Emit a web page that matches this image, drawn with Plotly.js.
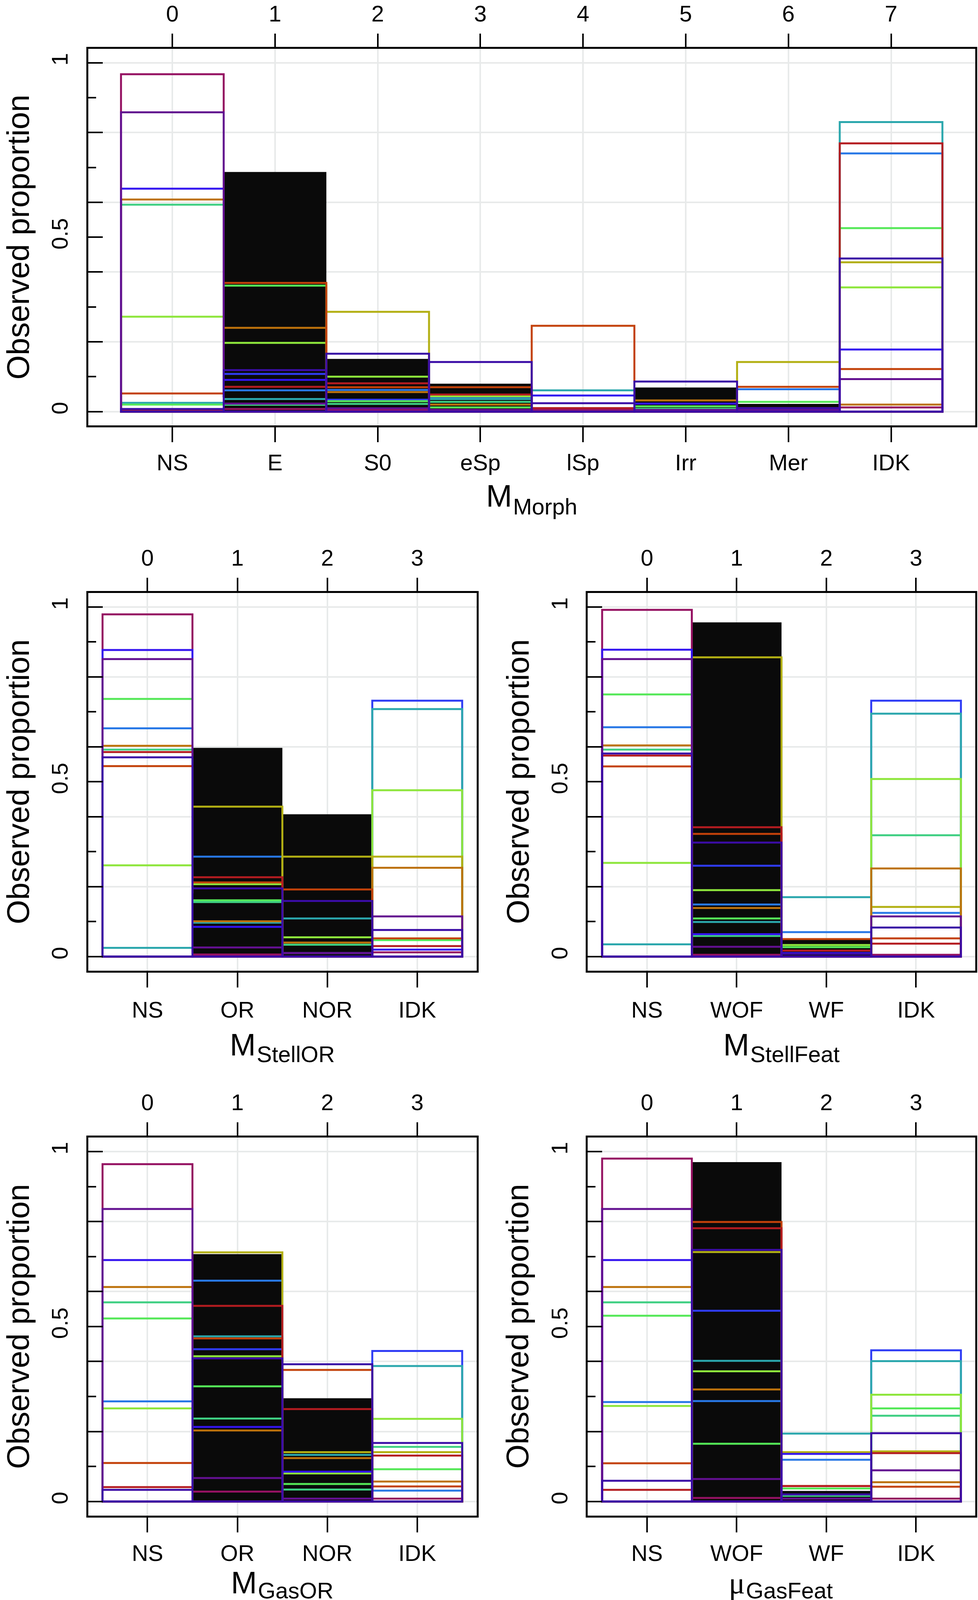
<!DOCTYPE html>
<html><head><meta charset="utf-8">
<script src="https://cdn.plot.ly/plotly-3.0.1.min.js"></script>
<style>
html,body{margin:0;padding:0;background:#fff;width:2503px;height:4140px;overflow:hidden}
#chart{display:block;width:2503px;height:4140px;overflow:hidden}
</style>
</head><body><div id="chart"></div>
<script>
// ---------------- DATA ----------------
// series (drawing order): bright blue, azure, teal, green, sea green, yellow-green, olive,
// orange, red-orange, red, crimson, blue-violet, purple, indigo
const seriesNames = ['BB','AZ','TE','GR','SG','YG','OL','OR','RO','RD','CR','BV','PU','IN'];
const seriesColors = ['#2f3cf5','#2878e6','#2ba7ad','#55e858','#3ecf82','#8ee63c','#b3b014',
                      '#bd720c','#c3420a','#b41c20','#951262','#3414f0','#631090','#3b0ca6'];

const catMorph = ['NS','E','S0','eSp','lSp','Irr','Mer','IDK'];
const blackMorph = [0, 0.687, 0.151, 0.080, 0, 0.069, 0.022, 0];
const valsMorph = [
  [0, 0.108, 0.034, 0, 0, 0, 0, 0],
  [0, 0.061, 0.062, 0.042, 0, 0, 0.064, 0.740],
  [0.025, 0.036, 0, 0.036, 0.061, 0, 0, 0.830],
  [0.020, 0.361, 0.030, 0.012, 0, 0.015, 0.028, 0.526],
  [0.593, 0.0195, 0.022, 0.028, 0, 0.008, 0, 0],
  [0.272, 0.197, 0.100, 0.044, 0, 0, 0, 0.356],
  [0, 0, 0.286, 0, 0, 0, 0.142, 0.428],
  [0.608, 0.240, 0.056, 0.020, 0, 0.032, 0, 0.020],
  [0.052, 0.369, 0.070, 0.070, 0.246, 0, 0.071, 0.122],
  [0.004, 0.071, 0.081, 0.049, 0.010, 0, 0.010, 0.769],
  [0.967, 0.0075, 0.005, 0, 0.005, 0, 0.005, 0.012],
  [0.639, 0.091, 0, 0, 0.046, 0.023, 0, 0.178],
  [0.858, 0.023, 0.0094, 0.005, 0, 0.005, 0.005, 0.093],
  [0.0075, 0.119, 0.166, 0.142, 0.024, 0.086, 0.010, 0.439]
];

const catStellOR = ['NS','OR','NOR','IDK'];
const blackStellOR = [0, 0.597, 0.407, 0];
const valsStellOR = [
  [0, 0, 0, 0.732],
  [0.653, 0.286, 0, 0],
  [0.025, 0.097, 0.109, 0.708],
  [0.737, 0.161, 0.010, 0.047],
  [0.592, 0.156, 0.034, 0],
  [0.261, 0.207, 0.055, 0.476],
  [0, 0.429, 0.286, 0.286],
  [0.603, 0.101, 0.040, 0.254],
  [0.545, 0.212, 0.192, 0.052],
  [0.585, 0.227, 0, 0.030],
  [0.979, 0.006, 0, 0.012],
  [0.877, 0.085, 0.010, 0.020],
  [0.851, 0.026, 0.010, 0.115],
  [0.570, 0.195, 0.159, 0.076]
];

const catStellFeat = ['NS','WOF','WF','IDK'];
const blackStellFeat = [0, 0.956, 0.052, 0];
const valsStellFeat = [
  [0, 0.260, 0, 0.732],
  [0.656, 0.149, 0.070, 0.125],
  [0.035, 0.099, 0.170, 0.695],
  [0.750, 0.109, 0.027, 0],
  [0.592, 0.059, 0, 0.347],
  [0.268, 0.190, 0.033, 0.508],
  [0, 0.856, 0, 0.142],
  [0.604, 0.139, 0, 0.252],
  [0.544, 0.351, 0.050, 0.052],
  [0.575, 0.370, 0.017, 0.037],
  [0.992, 0.005, 0, 0.005],
  [0.878, 0.064, 0.010, 0],
  [0.851, 0.028, 0, 0.115],
  [0.581, 0.326, 0.008, 0.083]
];

const catGasOR = ['NS','OR','NOR','IDK'];
const blackGasOR = [0, 0.707, 0.295, 0];
const valsGasOR = [
  [0, 0.435, 0, 0.430],
  [0.286, 0.631, 0, 0.031],
  [0, 0.472, 0.133, 0.387],
  [0.523, 0.329, 0.050, 0.092],
  [0.569, 0.237, 0.034, 0.156],
  [0.266, 0.415, 0.080, 0.236],
  [0, 0.712, 0.141, 0.141],
  [0.613, 0.203, 0.124, 0.057],
  [0.110, 0.466, 0.376, 0.043],
  [0.041, 0.559, 0.264, 0.131],
  [0.964, 0.028, 0, 0.008],
  [0.690, 0.213, 0.085, 0],
  [0.836, 0.067, 0.008, 0],
  [0.033, 0.409, 0.392, 0.167]
];

const catGasFeat = ['NS','WOF','WF','IDK'];
const blackGasFeat = [0, 0.970, 0.030, 0];
const valsGasFeat = [
  [0, 0.545, 0, 0.432],
  [0.284, 0.287, 0.119, 0],
  [0, 0.402, 0.194, 0.401],
  [0.531, 0.165, 0.037, 0.266],
  [0.569, 0, 0.016, 0.245],
  [0.273, 0.372, 0, 0.305],
  [0, 0.713, 0.141, 0.143],
  [0.613, 0.320, 0, 0.055],
  [0.109, 0.799, 0.044, 0.042],
  [0.033, 0.781, 0.044, 0.138],
  [0.980, 0.010, 0.008, 0.008],
  [0.690, 0, 0.136, 0],
  [0.836, 0.064, 0.008, 0.089],
  [0.059, 0.719, 0.020, 0.195]
];

const yTickVals = [0, 0.5, 1];
const yTickText = ['0', '0.5', '1'];
const yGridVals = [0, 0.2, 0.4, 0.6, 0.8, 1];
const yMinorVals = [0.1, 0.3, 0.7, 0.9];
const yTitle = 'Observed proportion';
const xTitleMain = ['M', 'M', 'M', 'M', 'μ'];
const xTitleSub = ['Morph', 'StellOR', 'StellFeat', 'GasOR', 'GasFeat'];

// ---------------- LAYOUT ----------------
const W = 2503, H = 4140;
const FONT = 'Liberation Sans, Arial, Helvetica, sans-serif';
const SERIF = 'Liberation Serif, Times New Roman, serif';
const GRID = '#e8eaea';
const MAIN_SIZE = 80, SUB_SIZE = 58, MU_SIZE = 78;
// Arial / Liberation Sans advance widths (per 1000 em) for title layout
const ADV = {M:833,o:556,r:333,p:556,h:556,S:667,t:278,e:556,l:222,O:778,R:722,F:611,a:556,G:778,s:500};
const textWidth = (s, size) => s.split('').reduce((w, c) => w + (ADV[c] || 556), 0) * size / 1000;

// box: [left, right, top, bottom] px; lab: extra tick-label standoff; mb/sb: title baselines px
const panels = [
  {cats: catMorph, vals: valsMorph, black: blackMorph, box: [225.6, 2496, 124.9, 1089.4], lab: 0, mb: 1298, sb: 1318},
  {cats: catStellOR, vals: valsStellOR, black: blackStellOR, box: [225.6, 1219.7, 1518.2, 2484.6], lab: 6, mb: 2703, sb: 2720},
  {cats: catStellFeat, vals: valsStellFeat, black: blackStellFeat, box: [1504.3, 2496, 1518.2, 2484.6], lab: 6, mb: 2703, sb: 2720},
  {cats: catGasOR, vals: valsGasOR, black: blackGasOR, box: [225.6, 1219.7, 2912.3, 3879.5], lab: 2, mb: 4080, sb: 4093},
  {cats: catGasFeat, vals: valsGasFeat, black: blackGasFeat, box: [1504.3, 2496, 2912.3, 3879.5], lab: 2, mb: 4080, sb: 4093}
];

const traces = [];
const layout = {
  width: W, height: H, autosize: false,
  margin: {l: 0, r: 0, t: 0, b: 0, pad: 0},
  paper_bgcolor: '#ffffff', plot_bgcolor: '#ffffff',
  barmode: 'overlay', showlegend: false,
  font: {family: FONT, color: '#000'},
  annotations: []
};
const tickFont = {family: FONT, size: 58, color: '#000'};

let xi = 0, yi = 0;
panels.forEach((p, i) => {
  const [l, r, t, b] = p.box;
  const n = p.cats.length;
  const pad = 0.04 * n;
  const xr = [-0.5 - pad, n - 0.5 + pad];
  const yr = [-0.04, 1.04];
  const xs = p.cats.map((_, k) => k);

  const xMain = ++xi, xTop = ++xi;
  const yMain = ++yi, yAlt = ++yi;

  // filled (black) bars on the main subplot
  traces.push({type: 'bar', x: xs, y: p.black, width: 1, xaxis: 'x' + xMain, yaxis: 'y' + yMain,
    marker: {color: '#0a0a0a', line: {width: 0}}, hoverinfo: 'skip'});
  // outlined series on the overlay subplot (drawn above the black bars)
  p.vals.forEach((v, s) => {
    traces.push({type: 'bar', name: seriesNames[s], x: xs, y: v, width: 1,
      xaxis: 'x' + xTop, yaxis: 'y' + yAlt,
      marker: {color: 'rgba(0,0,0,0)', line: {color: seriesColors[s], width: 5}}});
  });

  layout['xaxis' + xMain] = {
    domain: [l / W, r / W], anchor: 'y' + yMain, range: xr, fixedrange: true,
    tickmode: 'array', tickvals: xs, ticktext: p.cats,
    ticks: 'outside', ticklen: 38, tickwidth: 4, tickcolor: '#000',
    showline: true, linewidth: 5, linecolor: '#000', mirror: true,
    showgrid: true, gridcolor: GRID, gridwidth: 4, zeroline: false,
    tickfont: tickFont, ticklabelstandoff: 2 + p.lab
  };
  layout['xaxis' + xTop] = {
    overlaying: 'x' + xMain, anchor: 'y' + yMain, side: 'top', range: xr, fixedrange: true,
    tickmode: 'array', tickvals: xs, ticktext: xs.map(String),
    ticks: 'outside', ticklen: 38, tickwidth: 4, tickcolor: '#000',
    showline: false, showgrid: false, zeroline: false,
    tickfont: tickFont, ticklabelstandoff: 8
  };
  layout['yaxis' + yMain] = {
    domain: [1 - b / H, 1 - t / H], anchor: 'x' + xMain, range: yr, fixedrange: true,
    tickmode: 'array', tickvals: yTickVals, ticktext: yTickText,
    ticks: 'inside', ticklen: 37, tickwidth: 4, tickcolor: '#000', tickangle: -90,
    showline: true, linewidth: 5, linecolor: '#000', mirror: true,
    showgrid: false, zeroline: false,
    minor: {tickmode: 'array', tickvals: yMinorVals, ticks: 'inside', ticklen: 20,
            tickwidth: 4, tickcolor: '#000', showgrid: false},
    tickfont: tickFont, ticklabelstandoff: 24
  };
  layout['yaxis' + yAlt] = {
    overlaying: 'y' + yMain, anchor: 'x' + xMain, side: 'left', range: yr, fixedrange: true,
    tickmode: 'array', tickvals: yGridVals, showticklabels: false,
    ticks: 'inside', ticklen: 37, tickwidth: 4, tickcolor: '#000',
    showline: false, showgrid: true, gridcolor: GRID, gridwidth: 4, zeroline: false
  };

  // y title
  layout.annotations.push({
    xref: 'paper', yref: 'paper', x: Math.max(0, (l - 225.6) / W), y: 1 - ((t + b) / 2) / H,
    xanchor: 'left', yanchor: 'middle', textangle: -90, showarrow: false,
    text: yTitle, font: {family: FONT, size: 80, color: '#000'}
  });

  // x title: main symbol + subscript
  const isMu = xTitleMain[i] === 'μ';
  const mSize = isMu ? MU_SIZE : MAIN_SIZE;
  const wMain = isMu ? 0.5 * mSize : textWidth(xTitleMain[i], mSize);
  const wSub = textWidth(xTitleSub[i], SUB_SIZE);
  const cx = (l + r) / 2;
  const split = cx - (wMain + wSub) / 2 + wMain;
  layout.annotations.push({
    xref: 'paper', yref: 'paper', x: split / W, y: 1 - (p.mb + 0.212 * mSize) / H,
    xanchor: 'right', yanchor: 'bottom', showarrow: false, borderpad: 0,
    text: xTitleMain[i], font: {family: isMu ? SERIF : FONT, size: mSize, color: '#000'}
  });
  layout.annotations.push({
    xref: 'paper', yref: 'paper', x: split / W, y: 1 - (p.sb + 0.212 * SUB_SIZE) / H,
    xanchor: 'left', yanchor: 'bottom', showarrow: false, borderpad: 0,
    text: xTitleSub[i], font: {family: FONT, size: SUB_SIZE, color: '#000'}
  });
});

Plotly.newPlot('chart', traces, layout, {staticPlot: true, displayModeBar: false});
</script></body></html>
